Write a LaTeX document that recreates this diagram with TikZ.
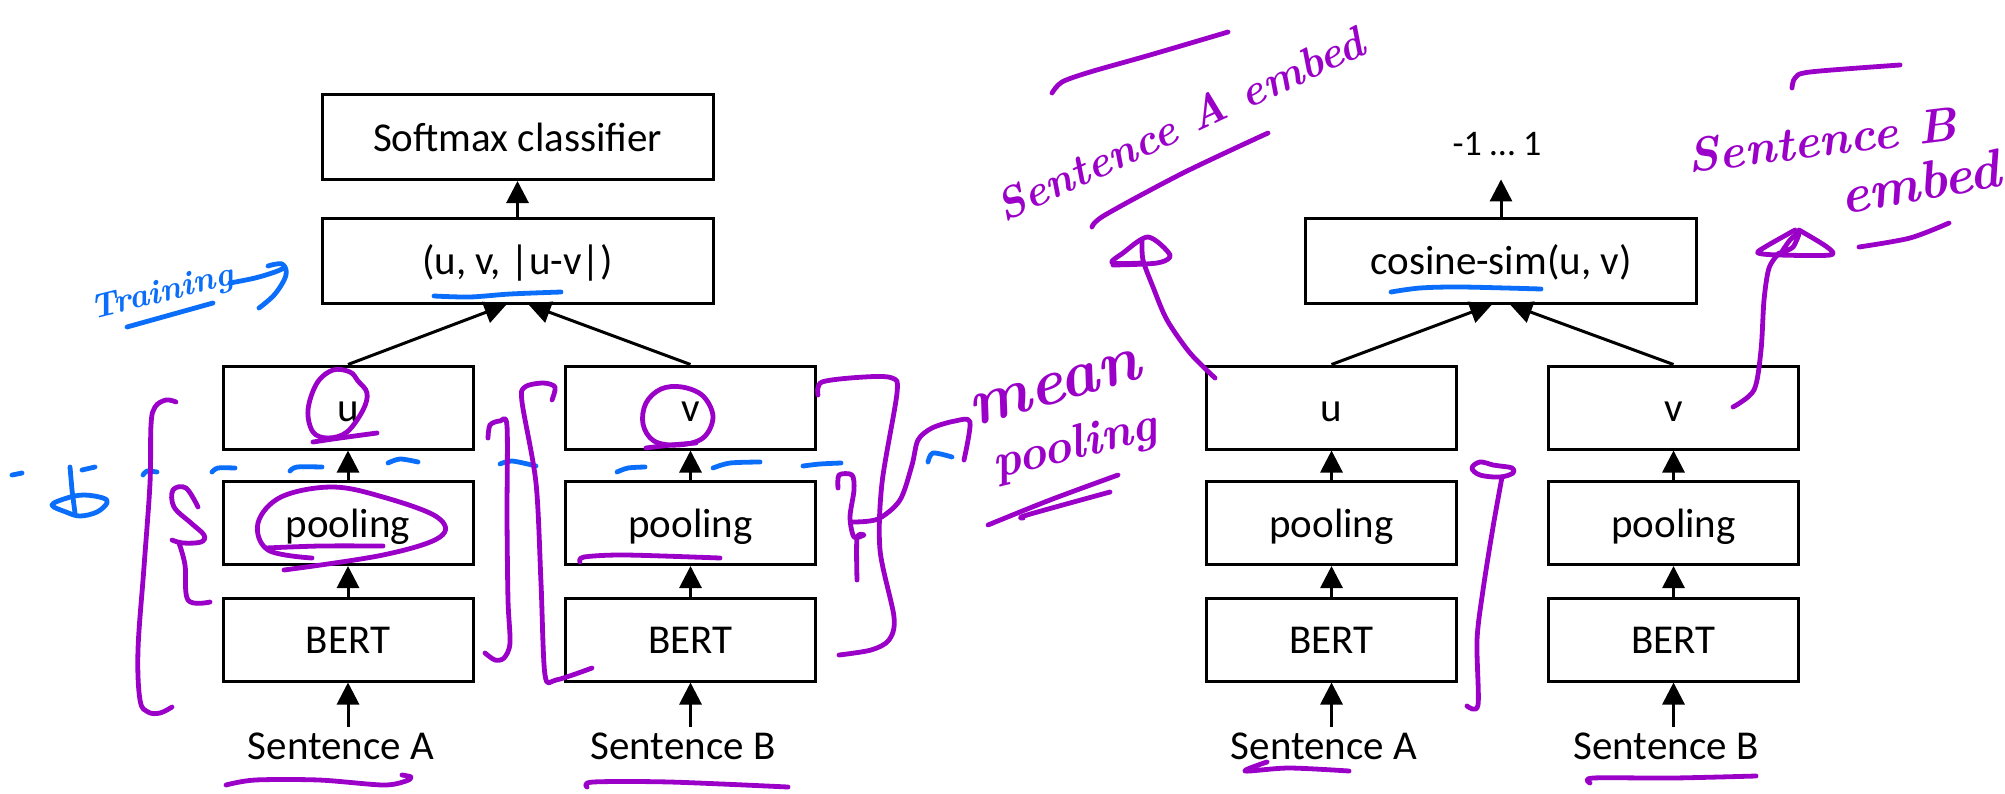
\documentclass[tikz,border=0pt]{standalone}
\usepackage{fontspec}
\setmainfont{Carlito}
\newfontfamily\handfont{Latin Modern Roman}
\usetikzlibrary{arrows.meta}
\definecolor{inkpurple}{RGB}{155,0,200}
\definecolor{inkblue}{RGB}{10,110,250}

\begin{document}
\begin{tikzpicture}[x=0.5pt,y=-0.5pt,
  blk/.style={draw=black, line width=1.5pt, minimum width=125pt, minimum height=41.5pt,
    inner sep=0pt, text height=16pt, text depth=2pt, font=\fontsize{20.5}{24}\selectfont},
  wide/.style={blk, minimum width=195.5pt, minimum height=42.5pt},
  lbl/.style={inner sep=0pt, text height=16pt, text depth=2pt, font=\fontsize{20.5}{24}\selectfont},
  flow/.style={line width=1.5pt, -{Triangle[length=11pt,width=11pt]}},
  pen/.style={draw=inkpurple, line width=2.4pt, line cap=round, line join=round},
  bpen/.style={draw=inkblue, line width=2.4pt, line cap=round, line join=round},
  hand/.style={inner sep=0pt, text=inkpurple, font=\handfont\bfseries\itshape},
  bhand/.style={hand, text=inkblue}
]
\fill[white] (0,0) rectangle (2005,793);
\useasboundingbox (0,0) rectangle (2005,793);

% ---------------- classification objective ----------------
\node[wide] (soft) at (517.5,137) {Softmax classifier};
\node[wide] (cat)  at (517.5,260.5) {(u, v, |u-v|)};
\node[blk] (uL) at (348,407.5) {u};
\node[blk] (pA) at (348,523) {pooling};
\node[blk] (bA) at (348,639.5) {BERT};
\node[lbl] (sA) at (341,745) {Sentence A};
\node[blk] (vL) at (690.5,407.5) {v};
\node[blk] (pB) at (690.5,523) {pooling};
\node[blk] (bB) at (690.5,639.5) {BERT};
\node[lbl] (sB) at (683,745) {Sentence B};

\draw[flow] (cat.north) -- (soft.south);
\draw[flow] (uL.north) -- ([xshift=-5.5pt]cat.south);
\draw[flow] (vL.north) -- ([xshift=5.5pt]cat.south);
\draw[flow] (pA.north) -- (uL.south);
\draw[flow] (bA.north) -- (pA.south);
\draw[flow] (sA.north -| bA.south) -- (bA.south);
\draw[flow] (pB.north) -- (vL.south);
\draw[flow] (bB.north) -- (pB.south);
\draw[flow] (sB.north -| bB.south) -- (bB.south);

% ---------------- regression objective ----------------
\node[lbl, font=\fontsize{18}{22}\selectfont] (rng) at (1497,141) {-1 … 1};
\node[wide] (cos) at (1501,260.5) {cosine-sim(u, v)};
\node[blk] (uR) at (1331.5,407.5) {u};
\node[blk] (pC) at (1331.5,523) {pooling};
\node[blk] (bC) at (1331.5,639.5) {BERT};
\node[lbl] (sC) at (1324,745) {Sentence A};
\node[blk] (vR) at (1673.5,407.5) {v};
\node[blk] (pD) at (1673.5,523) {pooling};
\node[blk] (bD) at (1673.5,639.5) {BERT};
\node[lbl] (sD) at (1666,745) {Sentence B};

\draw[flow, shorten >=10pt] (cos.north) -- (cos.north |- rng.south);
\draw[flow] (uR.north) -- ([xshift=-4.5pt]cos.south);
\draw[flow] (vR.north) -- ([xshift=4.5pt]cos.south);
\draw[flow] (pC.north) -- (uR.south);
\draw[flow] (bC.north) -- (pC.south);
\draw[flow] (sC.north -| bC.south) -- (bC.south);
\draw[flow] (pD.north) -- (vR.south);
\draw[flow] (bD.north) -- (pD.south);
\draw[flow] (sD.north -| bD.south) -- (bD.south);

% ---------------- blue pen notes ----------------
\node[bhand, rotate=14, font=\handfont\bfseries\itshape\fontsize{17}{20}\selectfont] (train) at (162,294) {Training};
\draw[bpen] plot[smooth] coordinates {(127,327) (170,315) (213,303)};
\draw[bpen] plot[smooth, tension=0.6] coordinates {(230,283) (255,278) (275,272) (284,268)};
\draw[bpen] plot[smooth, tension=0.6] coordinates {(268,266) (282,264) (286,275) (275,294) (259,308)};
\draw[bpen] plot[smooth] coordinates {(434,296) (470,297) (510,294) (561,292)};
\draw[bpen] plot[smooth] coordinates {(1391,292) (1420,288) (1462,287) (1541,289)};
% dashed separator between encoder and pooled vector
\draw[bpen] (12,475) -- (22,473);
\draw[bpen] plot[smooth] coordinates {(143,475) (147,471) (157,472)};
\draw[bpen] plot[smooth] coordinates {(212,472) (218,468) (235,468)};
\draw[bpen] plot[smooth] coordinates {(290,471) (297,467) (322,467)};
\draw[bpen] plot[smooth] coordinates {(388,463) (400,459) (418,462)};
\draw[bpen] plot[smooth] coordinates {(500,464) (512,461) (536,466)};
\draw[bpen] plot[smooth] coordinates {(617,472) (628,468) (645,467)};
\draw[bpen] plot[smooth] coordinates {(713,468) (730,463) (760,462)};
\draw[bpen] plot[smooth] coordinates {(803,466) (820,464) (841,463)};
\draw[bpen] plot[smooth] coordinates {(928,462) (933,453) (952,457)};
% small mark at the far left
\draw[bpen] (70,467) -- (72,490) -- (75,513);
\draw[bpen] (82,470) -- (95,467);
\draw[bpen] plot[smooth cycle, tension=0.6] coordinates {(52,505) (67,498) (84,495) (103,498) (107,503) (97,512) (80,516) (66,512)};

% ---------------- purple pen notes, left ----------------
\draw[pen] plot[smooth, tension=0.6] coordinates {(176,402) (166,400) (155,407) (151,425) (150,483) (144,567) (138,650) (140,700) (148,712) (160,713) (172,707)};
\draw[pen] plot[smooth, tension=0.6] coordinates {(198,507) (186,488) (173,490) (174,507) (191,523) (204,535) (201,542) (183,543) (172,540)};
\draw[pen] plot[smooth, tension=0.6] coordinates {(179,543) (185,565) (188,600) (210,602)};
\draw[pen] plot[smooth cycle, tension=0.6] coordinates {(350,372) (333,370) (317,383) (308,410) (313,432) (328,438) (347,432) (363,410) (367,393) (358,381)};
\draw[pen] plot[smooth] coordinates {(313,442) (340,438) (377,433)};
\draw[pen] plot[smooth, tension=0.6] coordinates {(284,570) (383,555) (440,537) (437,517) (383,497) (332,487) (281,497) (258,523) (268,550) (312,558)};
\draw[pen] plot[smooth] coordinates {(266,548) (320,546) (383,546)};
\draw[pen] plot[smooth, tension=0.5] coordinates {(488,438) (490,425) (500,421) (507,426) (507,517) (508,600) (510,643) (504,658) (495,660) (485,653)};
\draw[pen] plot[smooth, tension=0.5] coordinates {(552,400) (555,387) (543,383) (525,387) (522,402) (536,483) (541,583) (545,675) (556,680) (592,668)};
\draw[pen] plot[smooth cycle, tension=0.6] coordinates {(661,389) (646,403) (643,424) (654,441) (678,445) (703,438) (713,417) (703,396) (682,387)};
\draw[pen] plot[smooth] coordinates {(646,448) (671,445) (696,443)};
\draw[pen] plot[smooth] coordinates {(580,562) (584,557) (625,555) (720,558)};
\draw[pen] plot[smooth, tension=0.5] coordinates {(818,395) (822,382) (864,377) (892,378) (897,393) (882,483) (880,550) (894,617) (889,640) (871,650) (839,655)};
\draw[pen] plot[smooth, tension=0.5] coordinates {(838,488) (839,475) (852,475) (854,490) (850,517) (854,537) (864,535) (857,538) (857,580)};
\draw[pen] plot[smooth, tension=0.5] coordinates {(853,522) (878,519) (900,500) (912,465) (918,440) (932,428) (955,421) (970,422) (964,460)};
\node[hand, rotate=16, font=\handfont\bfseries\itshape\fontsize{33}{36}\selectfont] (mean) at (1055,388) {mean};
\node[hand, rotate=14, font=\handfont\bfseries\itshape\fontsize{24}{27}\selectfont] (mpool) at (1075,447) {pooling};
\draw[pen] plot[smooth] coordinates {(988,525) (1050,500) (1118,475)};
\draw[pen] plot[smooth] coordinates {(1023,518) (1027,515) (1110,492)};
\draw[pen] plot[smooth] coordinates {(226,785) (255,780) (319,780) (383,785) (406,781) (411,777) (402,775)};
\draw[pen] plot[smooth] coordinates {(587,787) (593,782) (670,782) (788,787)};

% ---------------- purple pen notes, right ----------------
\node[hand, rotate=25, font=\handfont\bfseries\itshape\fontsize{22}{26}\selectfont] (embA) at (1180,124) {Sentence A embed};
\draw[pen] plot[smooth] coordinates {(1052,93) (1062,82) (1090,72) (1150,55) (1228,32)};
\draw[pen] plot[smooth] coordinates {(1092,227) (1105,215) (1183,173) (1268,133)};
\draw[pen] plot[smooth, tension=0.5] coordinates {(1142,263) (1112,263) (1123,253) (1148,237) (1170,255) (1157,263) (1113,265)};
\draw[pen] plot[smooth] coordinates {(1215,378) (1190,353) (1167,320) (1153,287) (1143,260) (1142,240)};

\node[hand, rotate=7, font=\handfont\bfseries\itshape\fontsize{24}{27}\selectfont] (embB1) at (1822,140) {Sentence B};
\node[hand, rotate=10, font=\handfont\bfseries\itshape\fontsize{27}{30}\selectfont] (embB2) at (1920,182) {embed};
\draw[pen] plot[smooth] coordinates {(1792,88) (1795,78) (1810,72) (1900,65)};
\draw[pen] plot[smooth] coordinates {(1859,247) (1910,238) (1949,223)};
\draw[pen] plot[smooth, tension=0.5] coordinates {(1795,230) (1765,247) (1758,253) (1779,255) (1830,255) (1827,247) (1799,230)};
\draw[pen] plot[smooth, tension=0.5] coordinates {(1781,253) (1790,240) (1799,233) (1793,247) (1783,252)};
\draw[pen] plot[smooth] coordinates {(1733,407) (1754,390) (1761,350) (1764,300) (1769,268) (1779,253)};

\draw[pen] plot[smooth cycle, tension=0.6] coordinates {(1472,468) (1480,462) (1493,465) (1500,466) (1512,468) (1513,473) (1500,477) (1480,475)};
\draw[pen] plot[smooth, tension=0.5] coordinates {(1502,477) (1493,527) (1483,590) (1477,640) (1478,705) (1467,706)};
\draw[pen] plot[smooth] coordinates {(1267,762) (1245,771) (1289,768) (1349,771)};
\draw[pen] plot[smooth] coordinates {(1590,783) (1593,778) (1673,778) (1756,776)};
\end{tikzpicture}
\end{document}
